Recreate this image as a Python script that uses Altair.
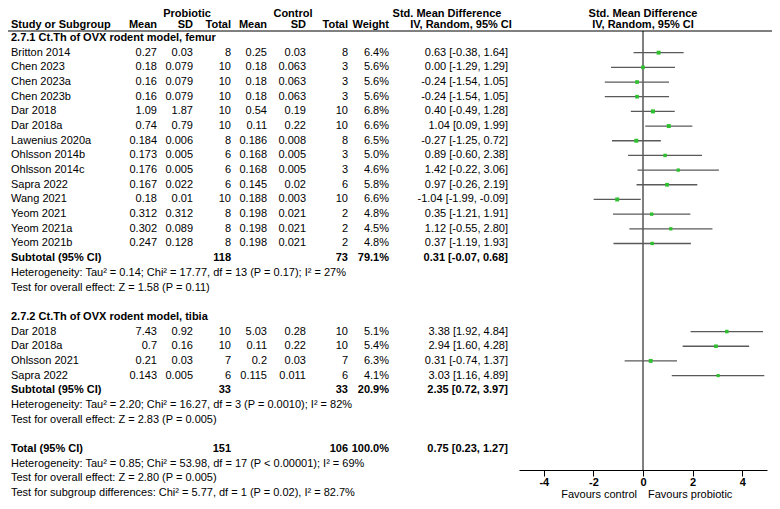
import altair as alt
import pandas as pd

FONT = "Liberation Sans"
FS = 11

# ---------------- data ----------------
femur_study = ["Britton 2014", "Chen 2023", "Chen 2023a", "Chen 2023b", "Dar 2018", "Dar 2018a",
               "Lawenius 2020a", "Ohlsson 2014b", "Ohlsson 2014c", "Sapra 2022", "Wang 2021",
               "Yeom 2021", "Yeom 2021a", "Yeom 2021b"]
femur_p_mean = ["0.27", "0.18", "0.16", "0.16", "1.09", "0.74", "0.184", "0.173", "0.176", "0.167", "0.18", "0.312", "0.302", "0.247"]
femur_p_sd = ["0.03", "0.079", "0.079", "0.079", "1.87", "0.79", "0.006", "0.005", "0.005", "0.022", "0.01", "0.312", "0.089", "0.128"]
femur_p_n = [8, 10, 10, 10, 10, 10, 8, 6, 6, 6, 10, 8, 8, 8]
femur_c_mean = ["0.25", "0.18", "0.18", "0.18", "0.54", "0.11", "0.186", "0.168", "0.168", "0.145", "0.188", "0.198", "0.198", "0.198"]
femur_c_sd = ["0.03", "0.063", "0.063", "0.063", "0.19", "0.22", "0.008", "0.005", "0.005", "0.02", "0.003", "0.021", "0.021", "0.021"]
femur_c_n = [8, 3, 3, 3, 10, 10, 8, 3, 3, 6, 10, 2, 2, 2]
femur_weight = [6.4, 5.6, 5.6, 5.6, 6.8, 6.6, 6.5, 5.0, 4.6, 5.8, 6.6, 4.8, 4.5, 4.8]
femur_smd = [0.63, 0.00, -0.24, -0.24, 0.40, 1.04, -0.27, 0.89, 1.42, 0.97, -1.04, 0.35, 1.12, 0.37]
femur_lo = [-0.38, -1.29, -1.54, -1.54, -0.49, 0.09, -1.25, -0.60, -0.22, -0.26, -1.99, -1.21, -0.55, -1.19]
femur_hi = [1.64, 1.29, 1.05, 1.05, 1.28, 1.99, 0.72, 2.38, 3.06, 2.19, -0.09, 1.91, 2.80, 1.93]

tibia_study = ["Dar 2018", "Dar 2018a", "Ohlsson 2021", "Sapra 2022"]
tibia_p_mean = ["7.43", "0.7", "0.21", "0.143"]
tibia_p_sd = ["0.92", "0.16", "0.03", "0.005"]
tibia_p_n = [10, 10, 7, 6]
tibia_c_mean = ["5.03", "0.11", "0.2", "0.115"]
tibia_c_sd = ["0.28", "0.22", "0.03", "0.011"]
tibia_c_n = [10, 10, 7, 6]
tibia_weight = [5.1, 5.4, 6.3, 4.1]
tibia_smd = [3.38, 2.94, 0.31, 3.03]
tibia_lo = [1.92, 1.60, -0.74, 1.16]
tibia_hi = [4.84, 4.28, 1.37, 4.89]

group_titles = ["2.7.1 Ct.Th of OVX rodent model, femur", "2.7.2 Ct.Th of OVX rodent model, tibia"]
sub_p_n = [118, 33]
sub_c_n = [73, 33]
sub_weight = [79.1, 20.9]
sub_smd = [0.31, 2.35]
sub_lo = [-0.07, 0.72]
sub_hi = [0.68, 3.97]
sub_het = ["Heterogeneity: Tau² = 0.14; Chi² = 17.77, df = 13 (P = 0.17); I² = 27%",
           "Heterogeneity: Tau² = 2.20; Chi² = 16.27, df = 3 (P = 0.0010); I² = 82%"]
sub_test = ["Test for overall effect: Z = 1.58 (P = 0.11)",
            "Test for overall effect: Z = 2.83 (P = 0.005)"]

total_p_n = 151
total_c_n = 106
total_weight = 100.0
total_smd, total_lo, total_hi = 0.75, 0.23, 1.27
total_het = "Heterogeneity: Tau² = 0.85; Chi² = 53.98, df = 17 (P < 0.00001); I² = 69%"
total_test = "Test for overall effect: Z = 2.80 (P = 0.005)"
subgroup_test = "Test for subgroup differences: Chi² = 5.77, df = 1 (P = 0.02), I² = 82.7%"

# ---------------- build table rows ----------------
def ci_text(e, lo, hi):
    return f"{e:.2f} [{lo:.2f}, {hi:.2f}]"

cells = []      # r, col, t, bold
studies = []    # r, est, lo, hi, w
diamonds = []   # id, x, yt, yb
HALF = 0.4

def cell(r, col, t, bold=False):
    cells.append({"r": r, "col": col, "t": str(t), "bold": bold})

def diamond(idx, r, e, lo, hi):
    diamonds.append({"id": idx, "x": lo, "yt": r, "yb": r})
    diamonds.append({"id": idx, "x": e, "yt": r - HALF, "yb": r + HALF})
    diamonds.append({"id": idx, "x": hi, "yt": r, "yb": r})

groups = [
    (femur_study, femur_p_mean, femur_p_sd, femur_p_n, femur_c_mean, femur_c_sd, femur_c_n,
     femur_weight, femur_smd, femur_lo, femur_hi),
    (tibia_study, tibia_p_mean, tibia_p_sd, tibia_p_n, tibia_c_mean, tibia_c_sd, tibia_c_n,
     tibia_weight, tibia_smd, tibia_lo, tibia_hi),
]

r = 0
for g, grp in enumerate(groups):
    cell(r, "name", group_titles[g], True)
    r += 1
    for i in range(len(grp[0])):
        cell(r, "name", grp[0][i])
        cell(r, "pm", grp[1][i]); cell(r, "psd", grp[2][i]); cell(r, "pn", grp[3][i])
        cell(r, "cm", grp[4][i]); cell(r, "csd", grp[5][i]); cell(r, "cn", grp[6][i])
        cell(r, "w", f"{grp[7][i]:.1f}%")
        cell(r, "ci", ci_text(grp[8][i], grp[9][i], grp[10][i]))
        studies.append({"r": r, "est": grp[8][i], "lo": grp[9][i], "hi": grp[10][i], "w": grp[7][i]})
        r += 1
    cell(r, "name", "Subtotal (95% CI)", True)
    cell(r, "pn", sub_p_n[g], True); cell(r, "cn", sub_c_n[g], True)
    cell(r, "w", f"{sub_weight[g]:.1f}%", True)
    cell(r, "ci", ci_text(sub_smd[g], sub_lo[g], sub_hi[g]), True)
    diamond(g, r, sub_smd[g], sub_lo[g], sub_hi[g])
    r += 1
    cell(r, "name", sub_het[g]); r += 1
    cell(r, "name", sub_test[g]); r += 1
    r += 1  # blank line

cell(r, "name", "Total (95% CI)", True)
cell(r, "pn", total_p_n, True); cell(r, "cn", total_c_n, True)
cell(r, "w", f"{total_weight:.1f}%", True)
cell(r, "ci", ci_text(total_smd, total_lo, total_hi), True)
diamond(2, r, total_smd, total_lo, total_hi)
r += 1
cell(r, "name", total_het); r += 1
cell(r, "name", total_test); r += 1
cell(r, "name", subgroup_test)
LAST = r

# ---------------- layout ----------------
W, H = 764, 462
Y0, Y1 = 30, 485                      # pixel range of body rows 0..LAST
STEP = (Y1 - Y0) / LAST
def r_at(px):                          # body-row units for a pixel offset from the top
    return (px - Y0) / STEP

H1, H2, RULE_R = r_at(0), r_at(17), r_at(23)

# header cells
hdr_cells = []
def hcell(r, col, t, base):
    hdr_cells.append({"r": r, "col": col, "t": t, "base": base})
hcell(H1, "hp", "Probiotic", "top")
hcell(H1, "hc", "Control", "top")
hcell(H1, "hci", "Std. Mean Difference", "top")
hcell(H2, "name", "Study or Subgroup", "middle")
for c, t in [("pm", "Mean"), ("psd", "SD"), ("pn", "Total"), ("cm", "Mean"), ("csd", "SD"),
             ("cn", "Total"), ("w", "Weight"), ("hci2", "IV, Random, 95% CI")]:
    hcell(H2, c, t, "middle")

cells_df = pd.DataFrame(cells)
hdr_df = pd.DataFrame(hdr_cells)
studies_df = pd.DataFrame(studies)
diam_df = pd.DataFrame(diamonds)

COLS = {
    "name": (3, "left"), "pm": (149, "right"), "psd": (185, "right"), "pn": (223, "right"),
    "cm": (259, "right"), "csd": (298, "right"), "cn": (340, "right"), "w": (381, "right"),
    "ci": (500, "right"), "hp": (179, "center"), "hc": (285, "center"),
    "hci": (439, "center"), "hci2": (453, "center"),
}

YS = alt.Scale(domain=[0, LAST], range=[Y0, Y1], nice=False, zero=False)
XS = alt.Scale(domain=[-5, 5], range=[511, 759], nice=False, zero=False)
X_AXIS = alt.Axis(values=[-4, -2, 0, 2, 4], tickSize=6, labelFont=FONT, labelFontSize=FS,
                  labelFontWeight="bold", labelColor="black", domainColor="black",
                  tickColor="black", domainWidth=1, tickWidth=1, grid=False, title=None,
                  labelPadding=0, labelExpr="'' + datum.value")

layers = []
for col, (px, align) in COLS.items():
    for b in (False, True):
        sub = cells_df[(cells_df["col"] == col) & (cells_df["bold"] == b)]
        if len(sub) == 0:
            continue
        layers.append(
            alt.Chart(sub).mark_text(align=align, baseline="middle", font=FONT, fontSize=FS,
                                     fontWeight="bold" if b else "normal", color="black")
            .encode(x=alt.value(px), y=alt.Y("r:Q", scale=YS, axis=None), text="t:N")
        )
    for base in ("top", "middle"):
        sub = hdr_df[(hdr_df["col"] == col) & (hdr_df["base"] == base)]
        if len(sub) == 0:
            continue
        layers.append(
            alt.Chart(sub).mark_text(align=align, baseline=base, font=FONT, fontSize=FS,
                                     fontWeight="bold", color="black")
            .encode(x=alt.value(px), y=alt.Y("r:Q", scale=YS, axis=None), text="t:N")
        )

# right-hand header, centred on the zero line
rh = pd.DataFrame({"x0": [0, 0], "r": [H1, H2], "t": ["Std. Mean Difference", "IV, Random, 95% CI"],
                   "base": ["top", "middle"]})
for base in ("top", "middle"):
    layers.append(alt.Chart(rh[rh["base"] == base]).mark_text(align="center", baseline=base, font=FONT,
                                                              fontSize=FS, fontWeight="bold", color="black")
                  .encode(x=alt.X("x0:Q", scale=XS, axis=X_AXIS),
                          y=alt.Y("r:Q", scale=YS, axis=None), text="t:N"))

# header line and zero line
hdr = pd.DataFrame({"x0": [0], "r": [RULE_R]})
layers.append(alt.Chart(hdr).mark_rule(color="black", strokeWidth=1)
              .encode(x=alt.value(0), x2=alt.value(W), y=alt.Y("r:Q", scale=YS, axis=None)))
layers.append(alt.Chart(hdr).mark_rule(color="black", strokeWidth=1)
              .encode(x=alt.X("x0:Q", scale=XS, axis=X_AXIS),
                      y=alt.Y("r:Q", scale=YS, axis=None), y2=alt.value(H)))

# CI lines and squares
layers.append(alt.Chart(studies_df).mark_rule(color="#5a5a5a", strokeWidth=1.3)
              .encode(x=alt.X("lo:Q", scale=XS, axis=X_AXIS), x2="hi:Q",
                      y=alt.Y("r:Q", scale=YS, axis=None)))
layers.append(alt.Chart(studies_df).mark_square(color="#2fc02f", opacity=1)
              .encode(x=alt.X("est:Q", scale=XS, axis=X_AXIS),
                      y=alt.Y("r:Q", scale=YS, axis=None),
                      size=alt.Size("w:Q", scale=alt.Scale(domain=[0, 10], range=[0, 24]), legend=None)))

# diamonds
layers.append(alt.Chart(diam_df).mark_area(color="black", opacity=1)
              .encode(x=alt.X("x:Q", scale=XS, axis=X_AXIS),
                      y=alt.Y("yt:Q", scale=YS, axis=None), y2="yb:Q",
                      detail="id:N", order=alt.Order("x:Q")))

# favours labels
fav = pd.DataFrame({"x0": [0], "r": [LAST]})
layers.append(alt.Chart(fav).mark_text(text="Favours control", align="right", dx=-6, dy=2,
                                       baseline="middle", font=FONT, fontSize=FS, color="black")
              .encode(x=alt.X("x0:Q", scale=XS, axis=X_AXIS), y=alt.Y("r:Q", scale=YS, axis=None)))
layers.append(alt.Chart(fav).mark_text(text="Favours probiotic", align="left", dx=5, dy=2,
                                       baseline="middle", font=FONT, fontSize=FS, color="black")
              .encode(x=alt.X("x0:Q", scale=XS, axis=X_AXIS), y=alt.Y("r:Q", scale=YS, axis=None)))

chart = (alt.layer(*layers)
         .properties(width=W, height=H, autosize=alt.AutoSizeParams(type="none"),
                     padding={"left": 0, "top": 0, "right": 0, "bottom": 31})
         .configure_view(stroke=None))

chart.save("out.html", embed_options={"renderer": "svg", "actions": False})
